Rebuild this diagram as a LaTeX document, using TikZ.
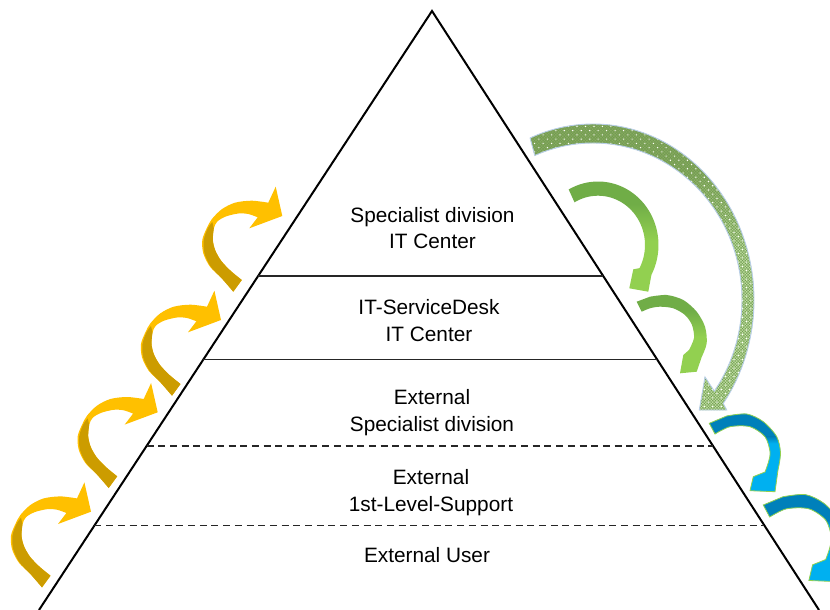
\documentclass[tikz,border=0pt]{standalone}
\usepackage{fontspec}
\setmainfont{Liberation Sans}
\usetikzlibrary{calc,patterns.meta}

\definecolor{ybright}{RGB}{255,192,0}
\definecolor{ydark}{RGB}{204,156,0}
\definecolor{gdark}{RGB}{112,173,71}
\definecolor{glight}{RGB}{146,208,80}
\definecolor{bdark}{RGB}{0,128,186}
\definecolor{bcyan}{RGB}{0,176,240}
\definecolor{boutline}{RGB}{146,208,80}
\definecolor{hdark}{RGB}{135,172,95}
\definecolor{hlight}{RGB}{192,226,160}
\definecolor{htex}{RGB}{112,152,82}
\definecolor{houtline}{RGB}{184,206,232}

\pgfdeclareverticalshading{greensh}{100bp}{color(0bp)=(glight); color(48bp)=(glight); color(65bp)=(gdark); color(100bp)=(gdark)}
\pgfdeclareverticalshading{hatchsh}{100bp}{color(0bp)=(hlight); color(53bp)=(hlight); color(67bp)=(hdark); color(100bp)=(hdark)}

\tikzset{
  tri/.style={draw=black, line width=2pt},
  sepline/.style={draw=black!85, line width=1.5pt},
  sepdash/.style={draw=black!85, line width=1.5pt, dash pattern=on 7pt off 4.7pt},
  lbl/.style={align=center, font=\fontsize{20.8}{26.5}\selectfont, inner sep=0pt, text=black},
  yarrow/.pic={
    \fill[ybright] (0,0) -- (-33,12.3) -- plot[smooth] coordinates {(-24.6,1.3) (-34,-2) (-44,-2.5) (-56.5,0.5) (-65,5.5) (-68.5,12.5) (-69.5,24) (-67,34.5) (-61,45) (-51.5,55) (-40.5,64)} -- plot[smooth] coordinates {(-49,75.7) (-60.6,62.3) (-72.3,50.7) (-79,37.3) (-80,24) (-75.6,12.3) (-70.6,3.3) (-60.6,-6.7) (-47.3,-13.3) (-30.6,-15.3) (-14,-13.3)} -- (-6.6,-29.3) -- cycle;
    \fill[ydark] plot[smooth] coordinates {(-68.5,12.5) (-69.5,24) (-67,34.5) (-61,45) (-51.5,55) (-40.5,64)} -- plot[smooth] coordinates {(-49,75.7) (-60.6,62.3) (-71.5,50.7) (-77.8,37.3) (-78.5,24) (-74.5,12.3) (-70,6)} -- cycle;
  },
  barrow/.pic={
    \path[save path=\bluep] (65.7,68.4) -- (40.7,67.4) -- (44,53.4) -- plot[smooth] coordinates {(55.7,48.7) (59.2,38.7) (60.7,28.4) (55.7,13.4) (40.7,3.4) (20.7,3.4) (5.7,10.7)} -- (0,0) -- plot[smooth] coordinates {(17.4,-7.3) (37.4,-9.3) (54,-1.6) (67.4,13.4) (71.2,29.7) (68.7,46.7)} -- cycle;
    \fill[bcyan, use path=\bluep];
    \begin{scope}
      \clip[use path=\bluep];
      \fill[bdark] (-5,-15) rectangle (80,14);
      \shade[top color=bdark, bottom color=bcyan] (-5,13.5) rectangle (80,20);
    \end{scope}
    \draw[boutline, line width=0.8pt, use path=\bluep];
  }
}

\begin{document}
\begin{tikzpicture}[x=1pt,y=-1pt]
\useasboundingbox (0,0) rectangle (830,610);
\clip (0,0) rectangle (830,610);
\fill[white] (0,0) rectangle (830,610);

% pyramid
\coordinate (apex) at (432,11);
\coordinate (bl) at (39,610);
\coordinate (br) at (819,610);
\draw[tri] (bl) -- (apex) -- (br);

\coordinate (l1a) at ($(apex)!0.4424!(bl)$);
\coordinate (l1b) at ($(apex)!0.4424!(br)$);
\coordinate (l2a) at ($(apex)!0.5818!(bl)$);
\coordinate (l2b) at ($(apex)!0.5818!(br)$);
\coordinate (l3a) at ($(apex)!0.7262!(bl)$);
\coordinate (l3b) at ($(apex)!0.7262!(br)$);
\coordinate (l4a) at ($(apex)!0.8589!(bl)$);
\coordinate (l4b) at ($(apex)!0.8589!(br)$);
\draw[sepline] (l1a) -- (l1b);
\draw[sepline] (l2a) -- (l2b);
\draw[sepdash] (l3a) -- (l3b);
\draw[sepdash] (l4a) -- (l4b);

% labels
\node[lbl] (t1) at (432.5,228) {Specialist division\\IT Center};
\node[lbl] (t2) at (429,320.4) {IT-ServiceDesk\\IT Center};
\node[lbl] (t3) at (432,412.5) {External\\Specialist division};
\node[lbl] (t4) at (431,492.5) {External\\1st-Level-Support};
\node[lbl] (t5) at (427,555.3) {External User};

% yellow arrows (left)
\pic at (282.3,216) {yarrow};
\pic at (221,320) {yarrow};
\pic at (157.7,412.3) {yarrow};
\pic at (91,511.7) {yarrow};

% big dotted arrow
\shade[shading=hatchsh,
  postaction={pattern={Hatch[distance=2pt,angle=45,line width=0.35pt]}, pattern color=htex},
  postaction={pattern={Dots[distance=6pt,angle=45,radius=0.75pt]}, pattern color=white},
  postaction={draw=houtline, line width=0.9pt}]
  plot[domain=-113:36, samples=60, smooth] ({593+161*cos(\x)},{300+176*sin(\x)})
  -- (726.7,410) -- (699.3,410) -- (705,377)
  -- plot[domain=35.5:-113, samples=60, smooth] ({593+149*cos(\x)},{300+157*sin(\x)}) -- cycle;

% green arrows
\shade[shading=greensh]
  plot[domain=-119:28, samples=40, smooth] ({598+60.5*cos(\x)},{245+63.5*sin(\x)})
  -- (648.3,291.7) -- (629.3,288.3) -- (633.3,269.3)
  -- plot[domain=28:-120, samples=40, smooth] ({598+47*cos(\x)},{245+49.3*sin(\x)}) -- cycle;
\shade[shading=greensh] (696.7,371.7) -- (680,373.3) -- (683.3,355)
  -- plot[smooth] coordinates {(689,350) (694,338) (692,325) (685,315) (673.3,308.3) (660,306.7) (650,308.3) (641.7,311.7)}
  -- (636.7,301.7)
  -- plot[smooth] coordinates {(650,296.7) (666.7,295) (683.3,300) (696.7,311.7) (705,326.7) (706.7,343.3) (701.7,357)} -- cycle;

% blue arrows
\pic at (709.3,423.3) {barrow};
\pic[scale=1.12] at (763.3,505) {barrow};
\end{tikzpicture}
\end{document}
